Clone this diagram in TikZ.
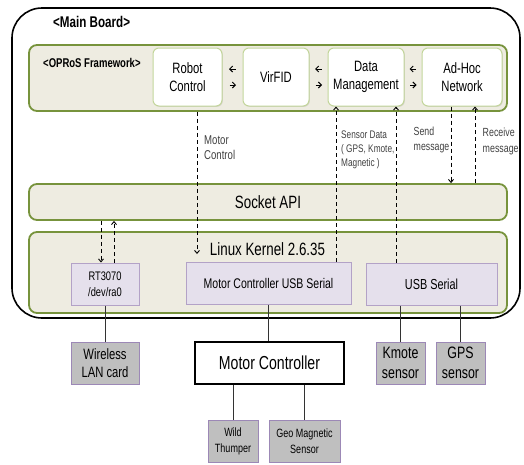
\documentclass[tikz,border=0pt]{standalone}
\usepackage{fontspec}
\setmainfont{Liberation Sans}[FakeStretch=0.75]
\usetikzlibrary{arrows.meta,calc,shadows}
\definecolor{fwfill}{HTML}{EEECE1}
\definecolor{fwline}{HTML}{77933C}
\definecolor{inline}{HTML}{C3D69B}
\definecolor{lavfill}{HTML}{E5E0EC}
\definecolor{lavline}{HTML}{B3A2C7}
\definecolor{grayfill}{HTML}{BFBFBF}
\definecolor{grayline}{HTML}{9C88B6}
\definecolor{lbl}{HTML}{404040}
\newcommand{\fs}[2]{\fontsize{#1}{#2}\selectfont}
\tikzset{
  layer/.style={draw=fwline,line width=1.8pt,fill=fwfill,rounded corners=8pt,minimum width=478pt,inner sep=0pt},
  fwbox/.style={draw=inline,line width=1pt,fill=white,rounded corners=6pt,minimum height=58pt,align=center,inner sep=0pt,
    font=\fs{15}{18},drop shadow={shadow xshift=0.8pt,shadow yshift=-0.8pt,opacity=0.25}},
  kbox/.style={draw=lavline,line width=1pt,fill=lavfill,minimum height=42pt,align=center,inner sep=0pt,
    font=\fs{14.5}{16}},
  gbox/.style={draw=grayline,line width=1pt,fill=grayfill,minimum height=42pt,align=center,inner sep=0pt,
    font=\fs{15}{18.3},drop shadow={shadow xshift=1pt,shadow yshift=-1pt,opacity=0.3}},
  dline/.style={line width=0.9pt,dash pattern=on 4pt off 3pt},
  dtip/.style={-{Straight Barb[length=3pt,width=5pt]}},
  sarr/.style={line width=1pt,-{Straight Barb[length=3pt,width=6pt]}},
  note/.style={align=left,text=lbl,inner sep=0pt},
  solidl/.style={line width=1pt,draw=black!80},
}
\begin{document}
\begin{tikzpicture}[x=1pt,y=-1pt]
\useasboundingbox (0,0) rectangle (524,464);
% main board
\node[draw=black,line width=1.6pt,rounded corners=30pt,minimum width=508pt,minimum height=310pt,inner sep=0pt] (main) at (266,163) {};
\node[font=\bfseries\fs{15.5}{18},inner sep=0pt,anchor=base west] (mbl) at (53,27) {<Main Board>};
% layers
\node[layer,minimum height=66pt] (fw) at (268,78) {};
\node[font=\bfseries\fs{12.7}{15},inner sep=0pt,anchor=base west] (fwl) at (43,67) {<OPRoS Framework>};
\node[layer,minimum height=36pt,font=\fs{17.8}{20}] (sock) at (268,202) {Socket API};
\node[layer,minimum height=81pt] (kern) at (268,272.5) {};
\node[font=\fs{17.8}{20},inner sep=0pt,anchor=base] (kl) at (267.5,255) {Linux Kernel 2.6.35};
% framework boxes
\node[fwbox,minimum width=69pt] (rc) at (187.5,77) {Robot\\Control};
\node[fwbox,minimum width=66pt] (vf) at (276,77) {VirFID};
\node[fwbox,minimum width=76pt] (dm) at (366,77) {Data\\Management};
\node[fwbox,minimum width=80pt] (ah) at (462,77) {Ad-Hoc\\Network};
% small arrows between boxes
\foreach \a/\b in {rc/vf,vf/dm,dm/ah}{
  \coordinate (m) at ($(\a.east)!0.5!(\b.west)$);
  \draw[sarr] ($(m)+(3,-8)$) -- ($(m)+(-3.5,-8)$);
  \draw[sarr] ($(m)+(-3,8)$) -- ($(m)+(3.5,8)$);
}
% kernel boxes
\node[kbox,minimum width=68pt,font=\fs{12.4}{16}] (rt) at (105,284) {RT3070\\/dev/ra0};
\node[kbox,minimum width=165pt,font=\fs{14}{16}] (mcu) at (268.5,283) {Motor Controller USB Serial};
\node[kbox,minimum width=131pt] (usb) at (431.5,284) {USB Serial};
% bottom boxes
\node[gbox,minimum width=68pt] (wlan) at (105,363) {Wireless\\LAN card};
\node[draw=black,line width=1.6pt,fill=white,minimum width=149pt,minimum height=42pt,inner sep=0pt,font=\fs{18.8}{20}] (mc) at (269.5,363) {Motor Controller};
\node[gbox,minimum width=49pt,font=\fs{16.5}{20.5}] (km) at (400.5,363) {Kmote\\sensor};
\node[gbox,minimum width=49pt,font=\fs{16.5}{20.5}] (gps) at (460.5,363) {GPS\\sensor};
\node[gbox,minimum width=50pt,font=\fs{12}{16}] (wt) at (233,441) {Wild\\Thumper};
\node[gbox,minimum width=71pt,font=\fs{12}{16}] (geo) at (304.5,441) {Geo Magnetic\\Sensor};
% dashed connectors
\coordinate (mcend) at (197,254);
\draw[dline,dtip] (fw.south -| mcend) -- (mcend);
\node[note,anchor=north west,font=\fs{12.8}{15}] (mcl) at (204,135) {Motor\\Control};
\coordinate (s1) at (336,0);
\coordinate (s2) at (396,0);
\draw[dline,dtip] (mcu.north -| s1) -- (dm.south -| s1);
\draw[dline,dtip] (usb.north -| s2) -- (dm.south -| s2);
\node[note,anchor=north west,font=\fs{11}{14.3}] (sdl) at (341,130.5) {Sensor Data\\( GPS, Kmote,\\Magnetic )};
\coordinate (s3) at (451,0);
\coordinate (s4) at (475,0);
\draw[dline,dtip] (ah.south -| s3) -- (sock.north -| s3);
\draw[dline,dtip] (sock.north -| s4) -- (ah.south -| s4);
\node[note,anchor=north west,font=\fs{11.7}{15.5}] (sml) at (413.5,126.5) {Send\\message};
\node[note,anchor=north west,font=\fs{11.8}{15.5}] (rml) at (482.5,128.2) {Receive\\message};
\coordinate (r1) at (101,0);
\coordinate (r2) at (114,0);
\draw[dline,dtip] (sock.south -| r1) -- (rt.north -| r1);
\draw[dline,dtip] (rt.north -| r2) -- (sock.south -| r2);
% solid connectors
\draw[solidl] (rt.south) -- (wlan.north);
\draw[solidl] (mcu.south) -- (mcu.south |- mc.north);
\draw[solidl] (km.north |- usb.south) -- (km.north);
\draw[solidl] (gps.north |- usb.south) -- (gps.north);
\draw[solidl] (wt.north |- mc.south) -- (wt.north);
\draw[solidl] (geo.north |- mc.south) -- (geo.north);
\end{tikzpicture}
\end{document}
